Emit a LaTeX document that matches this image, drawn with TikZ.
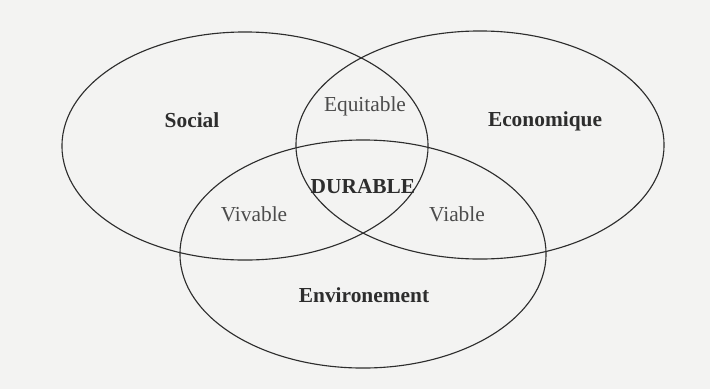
\documentclass[tikz,border=0pt]{standalone}
\usepackage{fontspec}
\setmainfont{Liberation Serif}
\usetikzlibrary{shapes.geometric, positioning}
\definecolor{papier}{RGB}{243,243,242}
\definecolor{encre}{RGB}{45,45,45}
\tikzstyle{ensemble}=
[
	draw=encre
	,ellipse
	,line width=0.8pt
	,minimum width=9.15cm
	,minimum height=5.7cm
	,inner sep=0pt
]
\tikzstyle{titre}=
[
	text=encre
	,inner sep=0pt
	,font=\fontsize{15.2}{18}\selectfont\bfseries
]
\tikzstyle{zone}=
[
	text=encre!85
	,inner sep=0pt
	,font=\fontsize{15.2}{18}\selectfont
]

\begin{document}
\begin{tikzpicture}[x=0.025cm,y=-0.025cm]
\fill[papier](0,0) rectangle (710,389);
\useasboundingbox (0,0) rectangle (710,389);

\node(social)[ensemble] at (245,146) {};
\node(eco)[ensemble,minimum width=9.2cm] at (480,145) {};
\node(env)[ensemble] at (363,254) {};

\node(tsocial)[titre] at (192,120) {Social};
\node(teco)[titre] at (545,121) {Economique};
\node(tenv)[titre] at (364,295) {Environement};
\node(durable)[titre] at (363,187) {DURABLE};

\node(equitable)[zone] at (365,106) {Equitable};
\node(vivable)[zone] at (254,214) {Vivable};
\node(viable)[zone] at (457,214) {Viable};

\end{tikzpicture}
\end{document}
